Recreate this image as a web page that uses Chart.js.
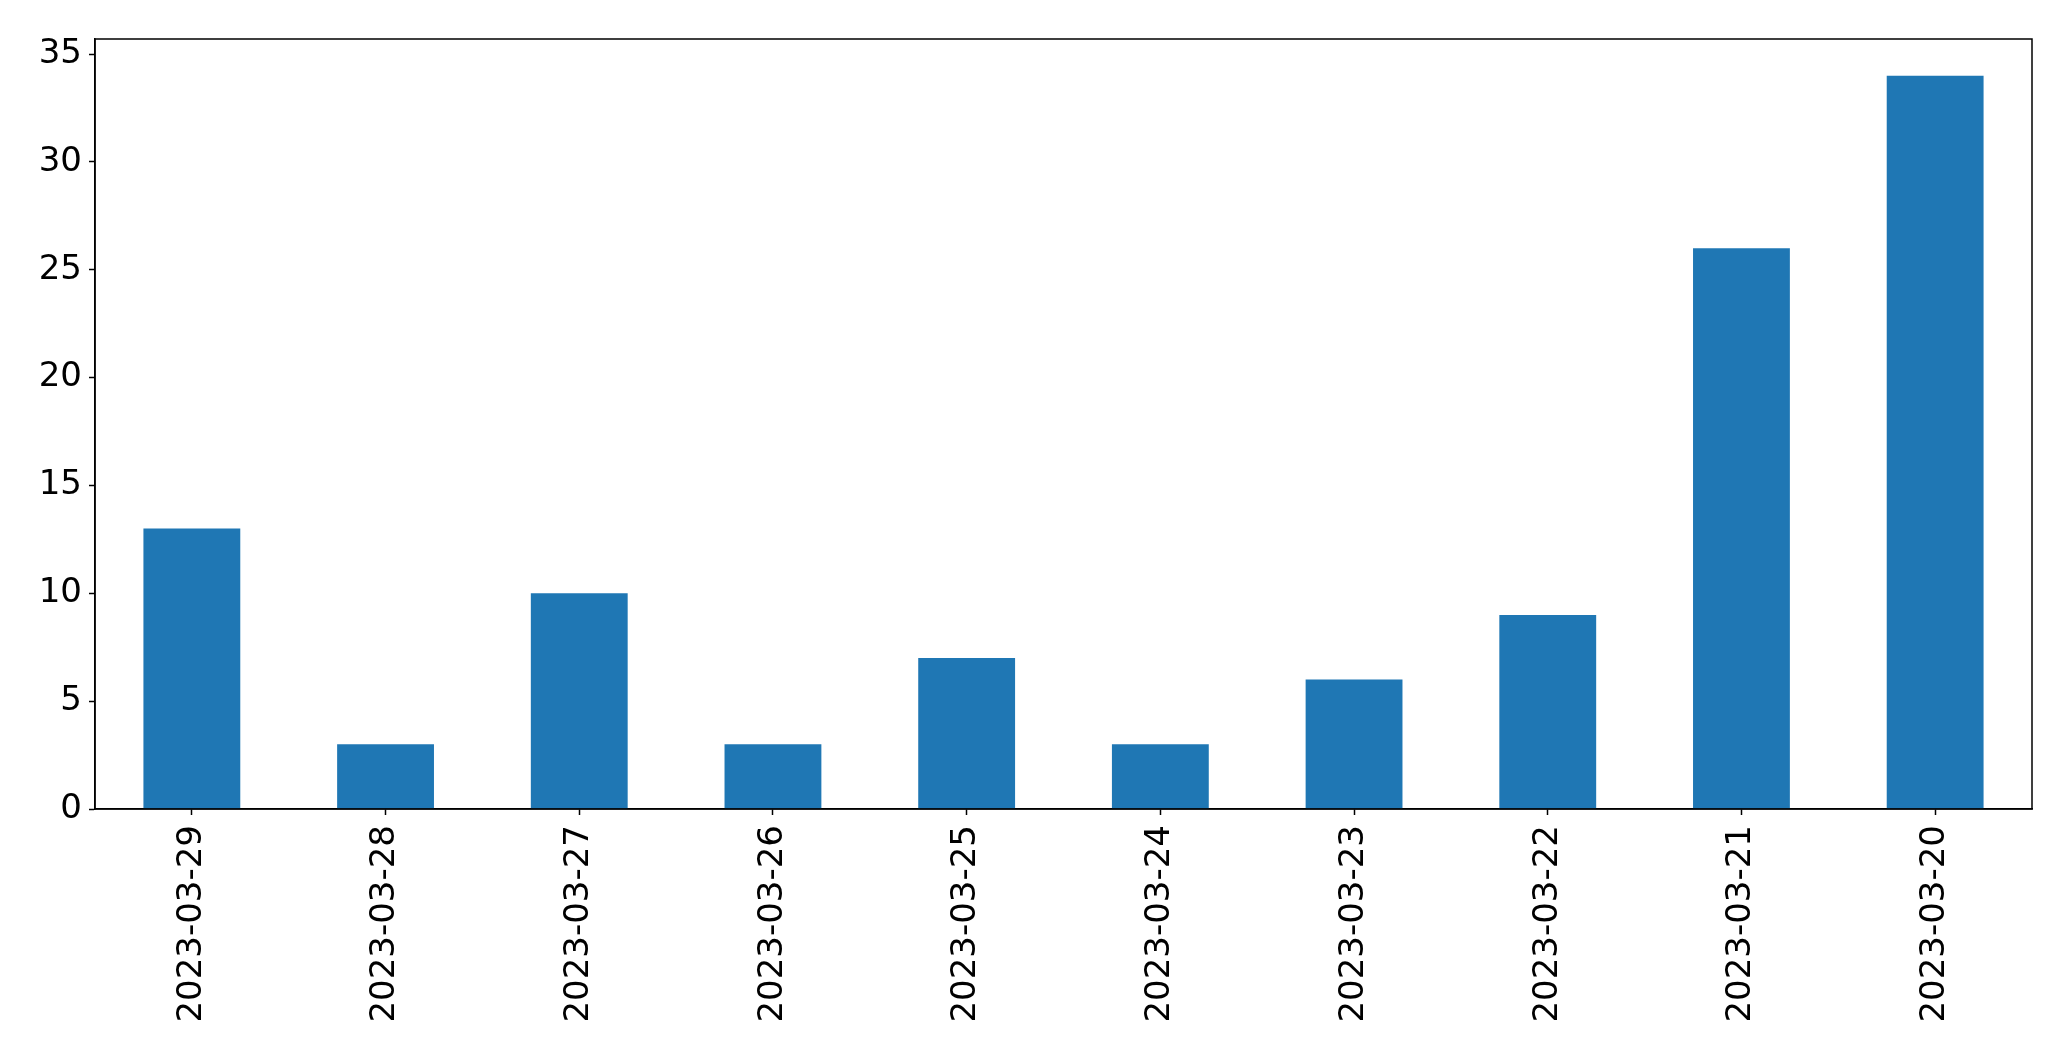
<!DOCTYPE html>
<html>
<head>
<meta charset="utf-8">
<script src="https://cdn.jsdelivr.net/npm/chart.js@4"></script>
<style>
  html, body { margin: 0; padding: 0; background: #fff; }
  #box { width: 2071px; height: 1061px; }
</style>
</head>
<body>
<div id="box"><canvas id="grafico"></canvas></div>
<script>
// dati
const dateLabels = ["2023-03-29","2023-03-28","2023-03-27","2023-03-26","2023-03-25",
                    "2023-03-24","2023-03-23","2023-03-22","2023-03-21","2023-03-20"];
const counts = [13, 3, 10, 3, 7, 3, 6, 9, 26, 34];
const yTicks = [0, 5, 10, 15, 20, 25, 30, 35];

const BLU = "#1f77b4";
const FONT = "'DejaVu Sans', sans-serif";

// cornice nera attorno all'area del grafico
const cornice = {
    id: "cornice",
    afterDraw(chart){
        const a = chart.chartArea;
        const ctx = chart.ctx;
        ctx.save();
        ctx.strokeStyle = "#000";
        ctx.lineWidth = 1.5;
        ctx.strokeRect(a.left, a.top, a.right - a.left, a.bottom - a.top);
        ctx.restore();
    }
};

new Chart(document.getElementById("grafico"), {
    type: "bar",
    data: {
        labels: dateLabels,
        datasets: [{
            data: counts,
            backgroundColor: BLU,
            borderWidth: 0,
            categoryPercentage: 0.5,
            barPercentage: 1.0
        }]
    },
    options: {
        responsive: true,
        maintainAspectRatio: false,
        animation: false,
        layout: { padding: { left: 0, right: 39, top: 39, bottom: 0 } },
        plugins: {
            legend: { display: false },
            tooltip: { enabled: false }
        },
        scales: {
            x: {
                grid: { display: true, drawOnChartArea: false, offset: false,
                        tickLength: 6, color: "#000", tickWidth: 1.5 },
                border: { display: true, color: "#000", width: 1.5 },
                ticks: {
                    color: "#000",
                    font: { family: FONT, size: 34 },
                    minRotation: 90, maxRotation: 90,
                    autoSkip: false,
                    padding: 10
                },
                afterFit(s){ s.height = 252; }
            },
            y: {
                min: 0,
                max: 35.7,
                grid: { display: true, drawOnChartArea: false,
                        tickLength: 6, color: "#000", tickWidth: 1.5 },
                border: { display: true, color: "#000", width: 1.5 },
                ticks: {
                    color: "#000",
                    font: { family: FONT, size: 34 },
                    padding: 7,
                    stepSize: 5
                },
                afterBuildTicks(s){
                    s.ticks = yTicks.map(v => ({ value: v }));
                },
                afterFit(s){ s.width = 95; }
            }
        }
    },
    plugins: [cornice]
});
</script>
</body>
</html>
